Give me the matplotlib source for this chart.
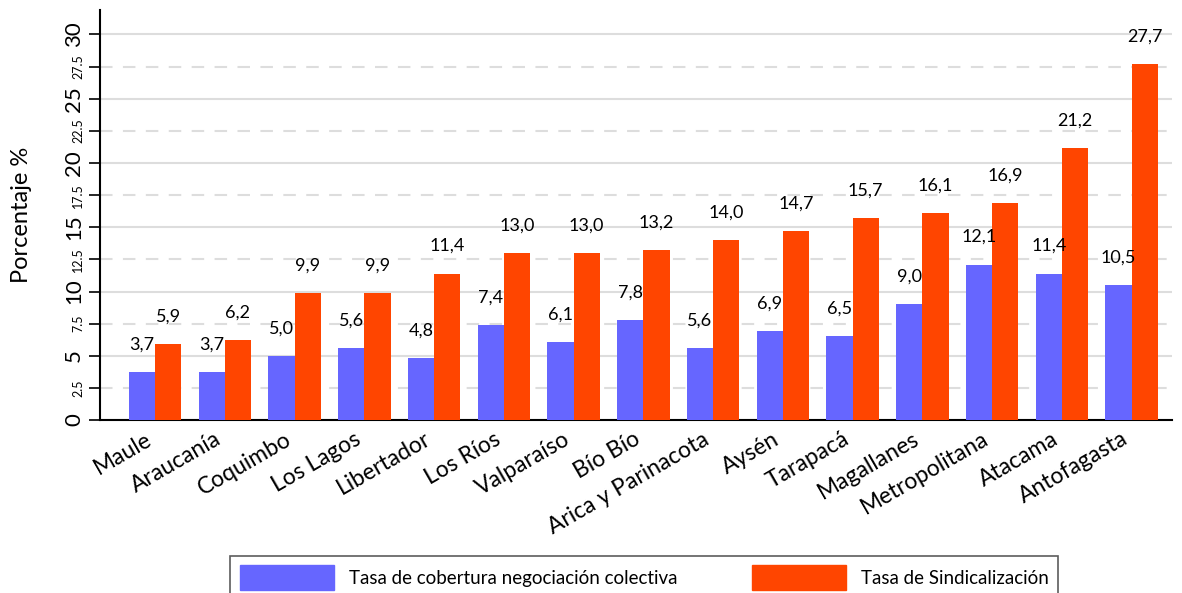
import numpy as np
import matplotlib
matplotlib.use('Agg')
from matplotlib import pyplot as plt
from matplotlib.patches import Patch

regiones = ["Maule", "Araucanía", "Coquimbo", "Los Lagos", "Libertador", "Los Ríos",
            "Valparaíso", "Bío Bío", "Arica y Parinacota", "Aysén", "Tarapacá",
            "Magallanes", "Metropolitana", "Atacama", "Antofagasta"]
cobertura = [3.7, 3.7, 5.0, 5.6, 4.8, 7.4, 6.1, 7.8, 5.6, 6.9, 6.5, 9.0, 12.1, 11.4, 10.5]
sindicalizacion = [5.9, 6.2, 9.9, 9.9, 11.4, 13.0, 13.0, 13.2, 14.0, 14.7, 15.7, 16.1, 16.9, 21.2, 27.7]

plt.rcParams['font.family'] = ['Lato', 'DejaVu Sans']

azul = "#6666FF"
rojo = "#FF4500"

fig = plt.figure(figsize=(11.82, 5.93), dpi=100)
ax = fig.add_axes([0.0846, 0.2917, 0.907, 0.6913])

x = np.arange(len(regiones))
w = 0.375
b1 = ax.bar(x - w/2, cobertura, w, color=azul, zorder=3)
b2 = ax.bar(x + w/2, sindicalizacion, w, color=rojo, zorder=3)

fmt = lambda v: f"{v:.1f}".replace(".", ",")
for bars, vals in [(b1, cobertura), (b2, sindicalizacion)]:
    for r, v in zip(bars, vals):
        ax.annotate(fmt(v), (r.get_x() + r.get_width()/2, v), xytext=(0, 14),
                    textcoords="offset points", ha="center", va="bottom", fontsize=13)

ax.set_ylim(0, 31.9)
ax.set_xlim(-0.79, 14.58)

ax.set_yticks(np.arange(0, 31, 5))
ax.set_yticks(np.arange(2.5, 30, 5), minor=True)
ax.set_yticklabels([str(int(t)) for t in np.arange(0, 31, 5)], rotation=90, va="center", fontsize=16)
ax.set_yticklabels([str(t) for t in np.arange(2.5, 30, 5)], minor=True, rotation=90,
                   va="center", fontsize=9)
ax.tick_params(axis="y", which="major", length=8, width=1.2)
ax.tick_params(axis="y", which="minor", length=8, width=1.2)
ax.grid(True, axis="y", which="major", color="#dddddd", lw=1.5, zorder=0)
ax.grid(True, axis="y", which="minor", color="#dddddd", lw=1.5, ls=(0, (6, 5)), zorder=0)

ax.set_xticks(x)
ax.set_xticklabels(regiones, rotation=30, ha="right", va="top", fontsize=16.5)
ax.tick_params(axis="x", length=0, pad=6)

ax.set_ylabel("Porcentaje %", fontsize=17, labelpad=23)
for s in ["top", "right"]:
    ax.spines[s].set_visible(False)
ax.spines["left"].set_linewidth(1.5)
ax.spines["bottom"].set_linewidth(1.5)

handles = [Patch(color=azul), Patch(color=rojo)]
leg = fig.legend(handles, ["Tasa de cobertura negociación colectiva", "Tasa de Sindicalización"],
                 loc="upper center", bbox_to_anchor=(0.545, 0.078), ncol=2, fontsize=13.5,
                 frameon=True, fancybox=False, handlelength=5.0, handleheight=1.6,
                 columnspacing=4.0, borderpad=0.5)
leg.get_frame().set_edgecolor("#333333")
leg.get_frame().set_linewidth(1.2)

plt.savefig("out.png", dpi=100)
plt.close()
